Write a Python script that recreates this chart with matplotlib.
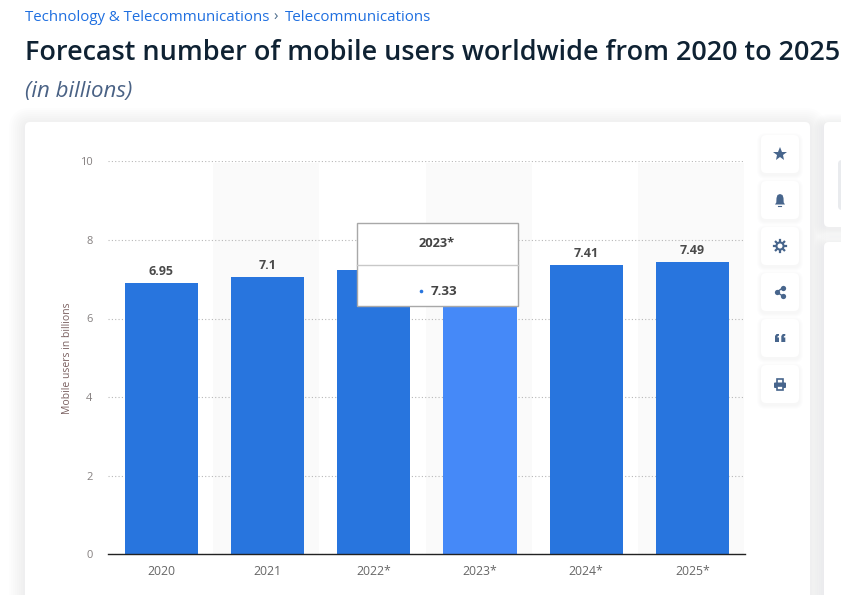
import matplotlib
matplotlib.use("Agg")
import matplotlib.pyplot as plt
from matplotlib.patches import FancyBboxPatch, Rectangle, Circle, Polygon
from matplotlib.transforms import ScaledTranslation

categories = ["2020", "2021", "2022*", "2023*", "2024*", "2025*"]
values = [6.95, 7.1, 7.28, 7.33, 7.41, 7.49]
value_labels = ["6.95", "7.1", "7.28", "7.33", "7.41", "7.49"]
yticks = [0, 2, 4, 6, 8, 10]

W, H = 841, 595
plt.rcParams['font.family'] = ['Open Sans', 'DejaVu Sans']
fig = plt.figure(figsize=(W / 100, H / 100), dpi=100, facecolor="white")

def page_axes(z):
    a = fig.add_axes([0, 0, 1, 1], zorder=z)
    a.set_xlim(0, W); a.set_ylim(H, 0); a.axis("off")
    a.patch.set_alpha(0)
    return a

def rbox(a, x, y, w, h, r, **kw):
    p = FancyBboxPatch((x + r, y + r), w - 2 * r, h - 2 * r,
                       boxstyle=f"round,pad={r},rounding_size={r}", **kw)
    a.add_patch(p)
    return p

bg = page_axes(0)
def shadow(a, x, y, w, h, r, spread, alpha, n=8):
    for i in range(n, 0, -1):
        s = spread * i / n
        rbox(a, x - s, y - s + 2, w + 2 * s, h + 2 * s, r + s,
             fc="#5f7a9c", ec="none", alpha=alpha)

shadow(bg, 25, 122, 785, 500, 6, 16, 0.012)
shadow(bg, 824, 122, 60, 105, 6, 10, 0.012)
shadow(bg, 824, 242, 60, 400, 6, 10, 0.012)
rbox(bg, 25, 122, 785, 500, 5, fc="white", ec="none")
rbox(bg, 824, 122, 60, 105, 5, fc="white", ec="none")
rbox(bg, 824, 242, 60, 400, 5, fc="white", ec="none")
rbox(bg, 838, 160, 20, 50, 4, fc="#e9ebee", ec="none")

# header text
link = "#1f6fe0"
bg.text(25, 17.5, "Technology & Telecommunications", fontsize=10.8, color=link, va="center", ha="left")
bg.text(273, 17.5, "›", fontsize=10.8, color="#4a6a8a", va="center", ha="left")
bg.text(285, 17.5, "Telecommunications", fontsize=10.9, color=link, va="center", ha="left")
bg.text(25, 52.5, "Forecast number of mobile users worldwide from 2020 to 2025", fontsize=19.47,
        fontweight="semibold", color="#0f2233", va="center", ha="left")
bg.text(25, 91, "(in billions)", fontsize=16, style="italic", color="#4a6285", va="center", ha="left")

# chart
left, right, top, bottom = 108.4, 745.4, 161.3, 554.3
ax = fig.add_axes([left / W, 1 - bottom / H, (right - left) / W, (bottom - top) / H], zorder=1)
ax.patch.set_alpha(0)
xs = list(range(len(categories)))
for i in xs:
    if i % 2 == 1:
        ax.axvspan(i - 0.512, i + 0.488, ymax=0.995, color="#fafafa", lw=0, zorder=0)
ax.set_axisbelow(True)
ax.yaxis.grid(True, color="#b8b8b8", ls=(0, (1, 2)), lw=0.8, zorder=1)
colors = ["#4589f8" if c == "2023*" else "#2875de" for c in categories]
# the reference paints its bars about 1.7 px below the value scale
bar_shift = ax.transData + ScaledTranslation(0, -1.7 / 100, fig.dpi_scale_trans)
ax.bar(xs, values, width=0.688, color=colors, zorder=2, transform=bar_shift)
for x, v, lab in zip(xs, values, value_labels):
    ax.annotate(lab, (x, v), xytext=(0, 2.2), textcoords="offset points", ha="center", va="bottom",
                fontsize=9, fontweight="bold", color="#4a4a4a")
ax.set_xlim(-0.5, 5.5)
ax.set_ylim(0, 10)
ax.set_xticks(xs, categories)
ax.set_yticks(yticks)
ax.tick_params(axis="x", length=0, pad=7.5, labelsize=8.8, labelcolor="#666666")
ax.tick_params(axis="y", length=0, pad=11.5, labelsize=8, labelcolor="#858080")
for s in ["top", "left", "right"]:
    ax.spines[s].set_visible(False)
ax.spines["bottom"].set_color("#222222")
ax.spines["bottom"].set_linewidth(1)
ax.set_ylabel("Mobile users in billions", fontsize=7.5, color="#7a6060", labelpad=5)

# foreground: tooltip and side buttons
fg = page_axes(2)
fg.add_patch(Rectangle((357, 222.7), 161, 83.5, fc="white", ec="#a8a8a8", lw=1))
fg.plot([357, 518], [265.4, 265.4], color="#c8c8c8", lw=1)
fg.text(436.5, 243.5, "2023*", fontsize=9.3, fontweight="bold", color="#444444", ha="center", va="center")
fg.plot([421.5], [290.5], "o", ms=2.6, color="#2875de", mew=0)
fg.text(430.5, 291.5, "7.33", fontsize=9.7, fontweight="bold", color="#444444", ha="left", va="center")

ic = "#47658c"
button_ys = [135, 181, 227, 273, 319, 365]
for y in button_ys:
    shadow(fg, 761, y, 38, 38, 5, 4, 0.012, n=4)
    rbox(fg, 761, y, 38, 38, 5, fc="white", ec="none")
cx = 780
# star
fg.plot([cx], [154], marker="*", ms=10, color=ic, mew=0)
# bell
fg.add_patch(Polygon([(775, 204.5), (776.3, 202.5), (776.5, 198), (777.5, 195), (780, 194), (782.5, 195),
                      (783.5, 198), (783.7, 202.5), (785, 204.5)], fc=ic, ec="none"))
fg.plot([778.5, 781.5], [206, 206], color=ic, lw=0.8)
# gear
fg.plot([cx - 6, cx + 6], [246, 246], color=ic, lw=1.6, zorder=3)
fg.plot([cx, cx], [240, 252], color=ic, lw=1.6, zorder=3)
fg.plot([cx - 4.2, cx + 4.2], [241.8, 250.2], color=ic, lw=1.6, zorder=3)
fg.plot([cx - 4.2, cx + 4.2], [250.2, 241.8], color=ic, lw=1.6, zorder=3)
fg.add_patch(Circle((cx, 246), 4.6, fc=ic, ec="none", zorder=4))
fg.add_patch(Circle((cx, 246), 2.5, fc="white", ec="none", zorder=5))
# share
for p in [(776.7, 292), (782.7, 288), (782.7, 296)]:
    fg.plot(*p, "o", ms=3.8, color=ic, mew=0)
fg.plot([782.7, 776.7, 782.7], [288, 292, 296], color=ic, lw=1)
# quote marks
for x0 in (775, 781.3):
    fg.add_patch(Polygon([(x0, 342), (x0, 336), (x0 + 1.5, 334), (x0 + 4, 334), (x0 + 4, 335.5),
                          (x0 + 2.5, 336.5), (x0 + 2.5, 337.5), (x0 + 4, 337.5), (x0 + 4, 342)], fc=ic, ec="none"))
# printer
fg.add_patch(Rectangle((776.7, 378.6), 6.6, 5, fc="white", ec=ic, lw=1.2))
fg.add_patch(FancyBboxPatch((774, 382.5), 12, 5.5, boxstyle="round,pad=0,rounding_size=1", fc=ic, ec="none"))
fg.add_patch(Rectangle((776.7, 385.5), 6.6, 4, fc="white", ec=ic, lw=1.2))

fig.savefig("out.png", dpi=100, facecolor=fig.get_facecolor())
